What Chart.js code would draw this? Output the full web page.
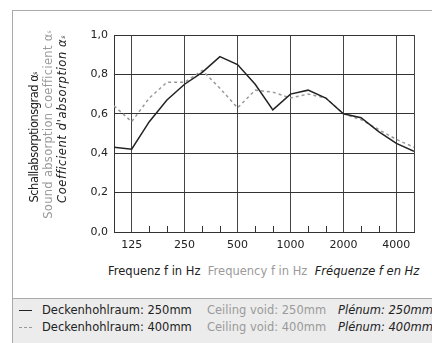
<!DOCTYPE html>
<html>
<head>
<meta charset="utf-8">
<script src="https://cdn.jsdelivr.net/npm/chart.js@4"></script>
<style>
  html, body { margin: 0; padding: 0; background: #fff; }
  body { width: 432px; height: 343px; position: relative; overflow: hidden;
         font-family: "DejaVu Sans", sans-serif; font-size: 11.5px; color: #222; }
  #frame { position: absolute; left: 12px; top: 10px; width: 440px; height: 340px;
           border-left: 1px solid #aaa; border-top: 1px solid #aaa; }
  #wrap { position: absolute; left: 0; top: 0; width: 432px; height: 260px; }
  .ytitle { position: absolute; white-space: nowrap; writing-mode: vertical-rl;
            transform: rotate(180deg); line-height: 14px; bottom: 140px; }
  .grey { color: #9a9a9a; }
  .it { font-style: italic; }
  sub { font-size: 6px; vertical-align: -1px; }
  #xtitle { position: absolute; top: 264px; left: 108px; white-space: nowrap; }
  #footer { position: absolute; left: 13px; top: 298px; width: 430px; height: 45px;
            background: #ececec; border-top: 1px solid #aaa; }
  .row { position: absolute; left: 0; white-space: nowrap; }
  .row span.t { position: absolute; }
  .sample { position: absolute; left: 6px; width: 13px; top: 7px; }
</style>
</head>
<body>
<div id="frame"></div>
<div id="wrap"><canvas id="absChart" width="432" height="260"></canvas></div>

<div class="ytitle" style="left:27px; letter-spacing:-0.5px">Schallabsorptionsgrad α<sub>s</sub></div>
<div class="ytitle grey" style="left:41px; bottom:124px; letter-spacing:0.3px">Sound absorption coefficient α<sub>s</sub></div>
<div class="ytitle it" style="left:55px; letter-spacing:0.6px">Coefficient d'absorption α<sub>s</sub></div>

<div id="xtitle">Frequenz f in Hz&nbsp;&nbsp;<span class="grey">Frequency f in Hz</span>&nbsp;&nbsp;<span class="it">Fréquenze f en Hz</span></div>

<div id="footer">
  <div class="row" style="top:4px">
    <div class="sample" style="border-top:1.5px solid #222"></div>
    <span class="t" style="left:29px">Deckenhohlraum: 250mm</span>
    <span class="t grey" style="left:194px">Ceiling void: 250mm</span>
    <span class="t it" style="left:325px">Plénum: 250mm</span>
  </div>
  <div class="row" style="top:21px">
    <div class="sample" style="border-top:1px dashed #999"></div>
    <span class="t" style="left:29px">Deckenhohlraum: 400mm</span>
    <span class="t grey" style="left:194px">Ceiling void: 400mm</span>
    <span class="t it" style="left:325px">Plénum: 400mm</span>
  </div>
</div>

<script>
// === Data ===
const freqs = ["100", "125", "160", "200", "250", "315", "400", "500", "630", "800",
               "1000", "1250", "1600", "2000", "2500", "3150", "4000", "5000"];
const void250 = [0.43, 0.42, 0.56, 0.67, 0.75, 0.81, 0.89, 0.85, 0.75, 0.62,
                 0.70, 0.72, 0.68, 0.60, 0.58, 0.51, 0.45, 0.41];
const void400 = [0.64, 0.56, 0.68, 0.76, 0.76, 0.82, 0.73, 0.63, 0.72, 0.71,
                 0.68, 0.70, 0.68, 0.60, 0.57, 0.52, 0.47, 0.43];
const xLabels = ["125", "250", "500", "1000", "2000", "4000"];
const yTicks = [0, 0.2, 0.4, 0.6, 0.8, 1.0];

const toPoints = arr => arr.map((v, i) => ({ x: i, y: v }));
const isMajor = i => xLabels.includes(freqs[i]);

// short third-octave ticks inside the plot
const minorTicks = {
  id: "minorTicks",
  afterDatasetsDraw(chart) {
    const { ctx, chartArea, scales } = chart;
    ctx.save();
    ctx.strokeStyle = "#333";
    ctx.lineWidth = 1;
    freqs.forEach((f, i) => {
      if (isMajor(i) || i === 0 || i === freqs.length - 1) return;
      const x = Math.round(scales.x.getPixelForValue(i)) + 0.5;
      ctx.beginPath();
      ctx.moveTo(x, chartArea.bottom);
      ctx.lineTo(x, chartArea.bottom - 6);
      ctx.stroke();
    });
    ctx.restore();
  }
};

const ctx = document.getElementById("absChart").getContext("2d");
new Chart(ctx, {
  type: "line",
  data: {
    datasets: [
      {
        label: "250mm",
        data: toPoints(void250),
        borderColor: "#222",
        borderWidth: 1.5,
        pointRadius: 0,
        tension: 0
      },
      {
        label: "400mm",
        data: toPoints(void400),
        borderColor: "#999",
        borderWidth: 1.5,
        borderDash: [3, 3],
        pointRadius: 0,
        tension: 0
      }
    ]
  },
  options: {
    responsive: false,
    animation: false,
    layout: { padding: { left: 0, top: 35, right: 18, bottom: 0 } },
    scales: {
      x: {
        type: "linear",
        min: 0,
        max: freqs.length - 1,
        afterBuildTicks: scale => {
          scale.ticks = freqs.map((f, i) => ({ value: i }));
        },
        afterFit: scale => { scale.height = 28; },
        grid: {
          drawTicks: false,
          color: c => (isMajor(c.index) || c.index === 0 || c.index === freqs.length - 1) ? "#444" : "rgba(0,0,0,0)",
          lineWidth: 1
        },
        border: { color: "#333", width: 1 },
        ticks: {
          autoSkip: false,
          maxRotation: 0,
          padding: 7,
          color: "#222",
          font: { family: "DejaVu Sans", size: 11 },
          callback: (v) => isMajor(v) ? freqs[v] : ""
        }
      },
      y: {
        min: 0,
        max: 1,
        afterBuildTicks: scale => {
          scale.ticks = yTicks.map(v => ({ value: v }));
        },
        afterFit: scale => { scale.width = 114; },
        grid: { drawTicks: false, color: "#333", lineWidth: 1 },
        border: { color: "#333", width: 1 },
        ticks: {
          padding: 6,
          color: "#222",
          font: { family: "DejaVu Sans", size: 11 },
          callback: v => v.toFixed(1).replace(".", ",")
        }
      }
    },
    plugins: {
      legend: { display: false },
      tooltip: { enabled: false }
    }
  },
  plugins: [minorTicks]
});
</script>
</body>
</html>
